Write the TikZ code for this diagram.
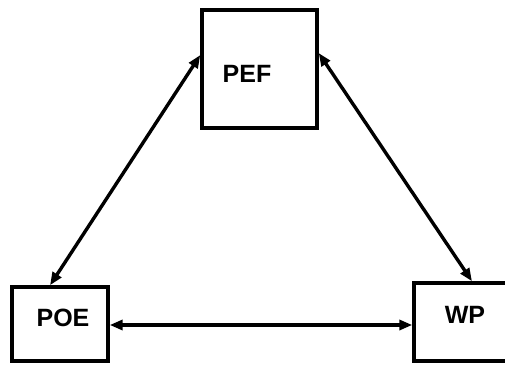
\documentclass[tikz,border=0pt]{standalone}
\usepackage{fontspec}
\setmainfont{Liberation Sans}
\usetikzlibrary{arrows.meta}
\begin{document}
\begin{tikzpicture}[x=1pt,y=-1pt,
  box/.style={draw=black,line width=3.4pt,fill=white,inner sep=0pt},
  lbl/.style={font=\fontsize{25}{25}\selectfont\bfseries,inner sep=0pt},
  link/.style={line width=3.4pt,{Triangle[length=13pt,width=10pt]}-{Triangle[length=13pt,width=10pt]}}]
\useasboundingbox (0,0) rectangle (505,364);
\clip (0,0) rectangle (505,364);
\fill[white] (0,0) rectangle (505,364);
\node[box,minimum width=115pt,minimum height=118pt] (pef) at (259.5,69) {};
\node[box,minimum width=96pt,minimum height=74pt] (poe) at (60,324) {};
\node[box,minimum width=110pt,minimum height=78pt] (wp) at (469,322) {};
\node[lbl] (peft) at (247,74) {PEF};
\node[lbl] (poet) at (63,318) {POE};
\node[lbl] (wpt) at (465,315) {WP};
\draw[link] ([yshift=14pt]pef.west) -- ([xshift=-10pt]poe.north);
\draw[link] ([yshift=16pt]pef.east) -- ([xshift=3pt]wp.north);
\draw[link] ([yshift=-1pt]poe.east) -- ([yshift=-1pt]wp.west |- poe.east);
\end{tikzpicture}
\end{document}
